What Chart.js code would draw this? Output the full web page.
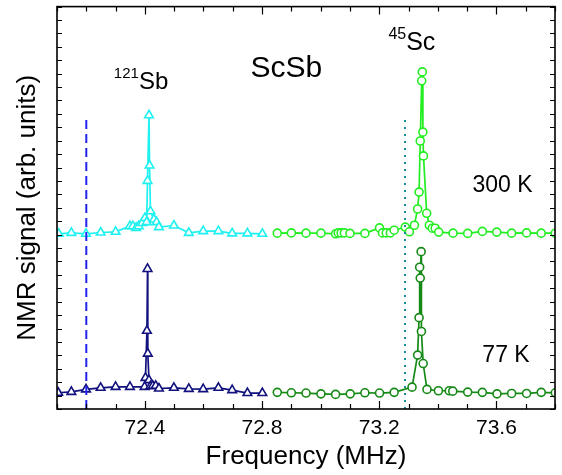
<!DOCTYPE html>
<html>
<head>
<meta charset="utf-8">
<script src="https://cdn.jsdelivr.net/npm/chart.js@4/dist/chart.umd.min.js"></script>
<style>
  html, body { margin: 0; padding: 0; background: #fff; }
</style>
</head>
<body>
<canvas id="chart" width="562" height="475"></canvas>
<script>
// 121Sb, 300 K
const sbFreq300 = [72.106, 72.149, 72.199, 72.249, 72.300, 72.349, 72.359, 72.370, 72.379, 72.391, 72.400, 72.406,
  72.409, 72.414, 72.416, 72.419, 72.431, 72.440, 72.448, 72.499, 72.550, 72.599, 72.651, 72.698, 72.750, 72.801];
const sbSig300 = [13.06, 13.13, 13.06, 13.16, 13.21, 13.63, 13.63, 13.50, 13.63, 13.87, 14.24, 13.93,
  17.01, 21.90, 18.15, 14.74, 14.13, 13.93, 13.56, 13.68, 13.13, 13.26, 13.26, 13.09, 13.09, 13.06];

// 45Sc, 300 K
const scFreq300 = [72.852, 72.900, 72.950, 73.001, 73.051, 73.060, 73.070, 73.081, 73.100, 73.151, 73.201, 73.211,
  73.224, 73.238, 73.251, 73.289, 73.303, 73.320, 73.331, 73.336, 73.340, 73.345, 73.347, 73.349, 73.351, 73.362,
  73.371, 73.381, 73.391, 73.403, 73.452, 73.502, 73.552, 73.601, 73.652, 73.703, 73.753, 73.801];
const scSig300 = [13.11, 13.13, 13.11, 13.11, 13.06, 13.13, 13.13, 13.13, 13.09, 13.09, 13.50, 13.13,
  13.13, 13.13, 13.33, 13.56, 13.21, 13.70, 14.91, 16.17, 19.98, 24.47, 25.13, 20.64, 18.87, 14.59,
  13.70, 13.48, 13.48, 13.19, 13.11, 13.09, 13.24, 13.19, 13.11, 13.13, 13.11, 13.11];

// 121Sb, 77 K
const sbFreq77 = [72.104, 72.149, 72.199, 72.249, 72.300, 72.349, 72.399, 72.402, 72.407, 72.409, 72.410, 72.414,
  72.419, 72.427, 72.437, 72.448, 72.499, 72.550, 72.599, 72.651, 72.698, 72.750, 72.801];
const sbSig77 = [1.21, 1.28, 1.46, 1.58, 1.65, 1.65, 1.65, 2.32, 5.83, 10.44, 4.13, 2.15,
  1.70, 1.73, 1.73, 1.53, 1.58, 1.50, 1.48, 1.58, 1.41, 1.19, 1.19];

// 45Sc, 77 K
const scFreq77 = [72.852, 72.900, 72.950, 73.001, 73.051, 73.101, 73.151, 73.201, 73.251, 73.312, 73.331, 73.336,
  73.338, 73.340, 73.343, 73.344, 73.350, 73.363, 73.402, 73.439, 73.451, 73.502, 73.552, 73.602, 73.652,
  73.703, 73.753, 73.801];
const scSig77 = [1.24, 1.21, 1.19, 1.13, 1.09, 1.13, 1.21, 1.19, 1.24, 1.63, 4.02, 6.81,
  10.57, 9.76, 11.73, 5.78, 3.39, 1.46, 1.36, 1.36, 1.33, 1.26, 1.24, 1.13, 1.16,
  1.16, 1.24, 1.21];

// reference markers (vertical lines)
const sbRefFreq = [72.2, 72.2];
const sbRefSig = [0, 21.9];
const scRefFreq = [73.288, 73.288];
const scRefSig = [0, 21.9];

const xTickLabels = [72.4, 72.8, 73.2, 73.6];

const FONT = "'Liberation Sans', Arial, Helvetica, sans-serif";

function pts(xs, ys) {
  return xs.map((v, i) => ({ x: v, y: ys[i] }));
}

function series(xs, ys, color, style, r) {
  return {
    data: pts(xs, ys),
    borderColor: color,
    borderWidth: 1.7,
    pointStyle: style,
    pointRadius: r,
    pointBorderWidth: 1.6,
    pointBackgroundColor: '#fff',
    pointBorderColor: color,
    tension: 0,
    fill: false
  };
}

function refLine(xs, ys, color, dash, w) {
  return {
    data: pts(xs, ys),
    borderColor: color,
    borderWidth: w,
    borderDash: dash,
    pointRadius: 0,
    fill: false
  };
}

// text labels, placed in data coordinates
const notes = [
  { sup: '', text: 'ScSb', f: 73.005, v: 24.74, size: 30, align: 'right' },
  { sup: '121', text: 'Sb', f: 72.3795, v: 23.85, size: 24, align: 'left' },
  { sup: '45', text: 'Sc', f: 73.292, v: 26.74, size: 25, align: 'left' },
  { sup: '', text: '300 K', f: 73.518, v: 16.15, size: 23, align: 'left' },
  { sup: '', text: '77 K', f: 73.552, v: 3.48, size: 23, align: 'left' }
];

const frameTicks = {
  id: 'frameTicks',
  afterDatasetsDraw(chart) {
    const { ctx, chartArea: a, scales: { x, y } } = chart;
    ctx.save();
    ctx.strokeStyle = '#000';
    ctx.lineWidth = 1.2;
    ctx.beginPath();
    x.ticks.forEach(t => {
      const px = Math.round(x.getPixelForValue(t.value)) + 0.5;
      const len = xTickLabels.some(l => Math.abs(l - t.value) < 1e-6) ? 8 : 5;
      ctx.moveTo(px, a.bottom); ctx.lineTo(px, a.bottom - len);
      ctx.moveTo(px, a.top); ctx.lineTo(px, a.top + len);
    });
    y.ticks.forEach(t => {
      const py = Math.round(y.getPixelForValue(t.value)) + 0.5;
      ctx.moveTo(a.left, py); ctx.lineTo(a.left + 5, py);
      ctx.moveTo(a.right, py); ctx.lineTo(a.right - 5, py);
    });
    ctx.stroke();
    ctx.lineWidth = 1.6;
    ctx.strokeRect(a.left, a.top, a.right - a.left, a.bottom - a.top);

    ctx.fillStyle = '#000';
    ctx.textBaseline = 'alphabetic';
    notes.forEach(n => {
      let px = x.getPixelForValue(n.f);
      const py = y.getPixelForValue(n.v);
      ctx.font = n.size + 'px ' + FONT;
      const w = ctx.measureText(n.text).width;
      if (n.align === 'right') px -= w;
      ctx.textAlign = 'left';
      ctx.fillText(n.text, px, py);
      if (n.sup) {
        ctx.font = Math.round(n.size * 0.62) + 'px ' + FONT;
        ctx.textAlign = 'right';
        ctx.fillText(n.sup, px, py - n.size * 0.45);
      }
    });
    ctx.restore();
  }
};

new Chart(document.getElementById('chart').getContext('2d'), {
  type: 'line',
  data: {
    datasets: [
      refLine(sbRefFreq, sbRefSig, '#2222ee', [9, 5], 2),
      refLine(scRefFreq, scRefSig, '#17909a', [2, 5], 2),
      series(sbFreq300, sbSig300, '#1ff0f0', 'triangle', 5),
      series(scFreq300, scSig300, '#22ee22', 'circle', 4),
      series(sbFreq77, sbSig77, '#12127f', 'triangle', 5),
      series(scFreq77, scSig77, '#168a16', 'circle', 4)
    ]
  },
  options: {
    responsive: false,
    animation: false,
    devicePixelRatio: 1,
    layout: { padding: { top: 4, right: 7, left: 0, bottom: 0 } },
    plugins: { legend: { display: false }, tooltip: { enabled: false } },
    scales: {
      x: {
        type: 'linear',
        min: 72.1,
        max: 73.8,
        grid: { display: false, drawTicks: false },
        border: { display: false },
        ticks: {
          stepSize: 0.1,
          autoSkip: false,
          maxRotation: 0,
          padding: 7,
          color: '#000',
          font: { family: FONT, size: 21 },
          callback: v => xTickLabels.some(l => Math.abs(l - v) < 1e-6) ? v.toFixed(1) : ''
        },
        title: {
          display: true,
          text: 'Frequency (MHz)',
          color: '#000',
          font: { family: FONT, size: 26 },
          padding: { top: 0, bottom: 3 }
        },
        afterFit: s => { s.height = 66; }
      },
      y: {
        min: 0,
        max: 30,
        grid: { display: false, drawTicks: false },
        border: { display: false },
        ticks: { display: false, stepSize: 1 },
        title: {
          display: true,
          text: 'NMR signal (arb. units)',
          color: '#000',
          font: { family: FONT, size: 26 },
          padding: { top: 12, bottom: 0 }
        },
        afterFit: s => { s.width = 57; }
      }
    }
  },
  plugins: [frameTicks]
});
</script>
</body>
</html>
